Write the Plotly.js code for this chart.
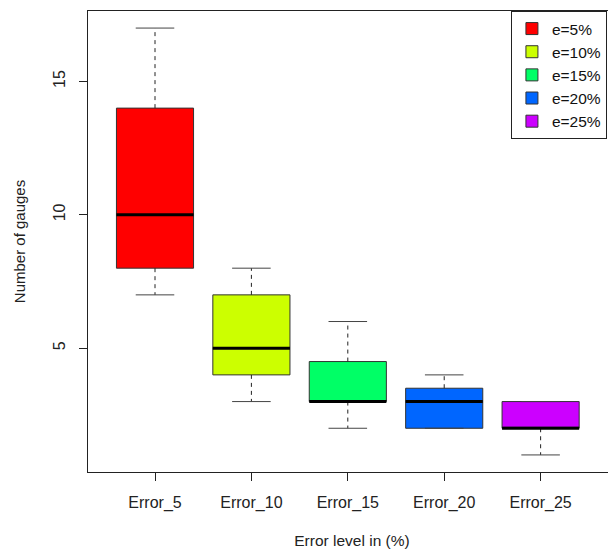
<!DOCTYPE html>
<html>
<head>
<meta charset="utf-8">
<script src="https://cdn.plot.ly/plotly-3.0.1.min.js"></script>
<style>
html,body{margin:0;padding:0;overflow:hidden;background:#fff;}
#chart{width:616px;height:552px;}
</style>
</head>
<body>
<div id="chart"></div>
<script>
// Data
const categories = ["Error_5", "Error_10", "Error_15", "Error_20", "Error_25"];
const seriesNames = ["e=5%", "e=10%", "e=15%", "e=20%", "e=25%"];
const lowerWhisker = [7, 3, 2, 2, 1];
const q1Values     = [8, 4, 3, 2, 2];
const medianValues = [10, 5, 3, 3, 2];
const q3Values     = [14, 7, 4.5, 3.5, 3];
const upperWhisker = [17, 8, 6, 4, 3];
const colors = ["#FF0000", "#CCFF00", "#00FF66", "#0066FF", "#CC00FF"];
const yTicks = [5, 10, 15];

const positions = categories.map((c, i) => i + 1);
const boxWidth = 0.8;
const stapleHalf = 0.2;
const ink = "#222222";

const traces = [];
// Boxes (no whiskers; whiskers drawn dashed separately, R-style)
categories.forEach((c, i) => {
  traces.push({
    type: "box",
    name: seriesNames[i],
    x: [positions[i]],
    q1: [q1Values[i]],
    median: [medianValues[i]],
    q3: [q3Values[i]],
    lowerfence: [q1Values[i]],
    upperfence: [q3Values[i]],
    width: boxWidth,
    fillcolor: colors[i],
    line: {color: "#333333", width: 1},
    whiskerwidth: 0,
    hoverinfo: "skip",
    showlegend: true
  });
});

// Dashed whiskers
const wx = [], wy = [];
categories.forEach((c, i) => {
  wx.push(positions[i], positions[i], null, positions[i], positions[i], null);
  wy.push(q3Values[i], upperWhisker[i], null, q1Values[i], lowerWhisker[i], null);
});
traces.push({
  type: "scatter", mode: "lines", x: wx, y: wy,
  line: {color: ink, width: 1, dash: "4px,4px"},
  showlegend: false, hoverinfo: "skip"
});

// Solid staples
const sx = [], sy = [];
categories.forEach((c, i) => {
  sx.push(positions[i] - stapleHalf, positions[i] + stapleHalf, null,
          positions[i] - stapleHalf, positions[i] + stapleHalf, null);
  sy.push(upperWhisker[i], upperWhisker[i], null, lowerWhisker[i], lowerWhisker[i], null);
});
traces.push({
  type: "scatter", mode: "lines", x: sx, y: sy,
  line: {color: "#444444", width: 1},
  showlegend: false, hoverinfo: "skip"
});

// Thick medians
const mx = [], my = [];
categories.forEach((c, i) => {
  mx.push(positions[i] - boxWidth / 2, positions[i] + boxWidth / 2, null);
  my.push(medianValues[i], medianValues[i], null);
});
traces.push({
  type: "scatter", mode: "lines", x: mx, y: my,
  line: {color: "#000000", width: 3},
  showlegend: false, hoverinfo: "skip"
});

const font = "Liberation Sans, Arial, sans-serif";
const layout = {
  width: 616, height: 552,
  margin: {l: 88, r: 0, t: 11, b: 80},
  paper_bgcolor: "#ffffff",
  plot_bgcolor: "#ffffff",
  font: {family: font, size: 15, color: ink},
  showlegend: true,
  legend: {
    x: 0.801, y: 1, xanchor: "left", yanchor: "top",
    bordercolor: "#222222", borderwidth: 1,
    bgcolor: "#ffffff",
    font: {family: font, size: 15.5, color: "#111111"},
    tracegroupgap: 0
  },
  xaxis: {
    range: [0.305, 5.782],
    tickmode: "array",
    tickvals: positions,
    ticktext: categories,
    ticks: "outside", ticklen: 8, tickcolor: ink, tickwidth: 1,
    ticklabelstandoff: 8,
    showline: true, linecolor: ink, linewidth: 1, mirror: true,
    showgrid: false, zeroline: false,
    tickfont: {family: font, size: 16, color: ink},
    title: {text: "Error level in (%)", font: {family: font, size: 15.5, color: ink}, standoff: 23},
    automargin: false
  },
  yaxis: {
    range: [0.36, 17.64],
    tickmode: "array",
    tickvals: yTicks,
    ticktext: yTicks.map(String),
    tickangle: -90,
    ticks: "outside", ticklen: 8, tickcolor: ink, tickwidth: 1,
    ticklabelstandoff: 8,
    showline: true, linecolor: ink, linewidth: 1, mirror: true,
    showgrid: false, zeroline: false,
    tickfont: {family: font, size: 16, color: ink},
    title: {text: "Number of gauges", font: {family: font, size: 15, color: ink}, standoff: 21},
    automargin: false
  }
};

Plotly.newPlot("chart", traces, layout, {displayModeBar: false, staticPlot: true});
</script>
</body>
</html>
